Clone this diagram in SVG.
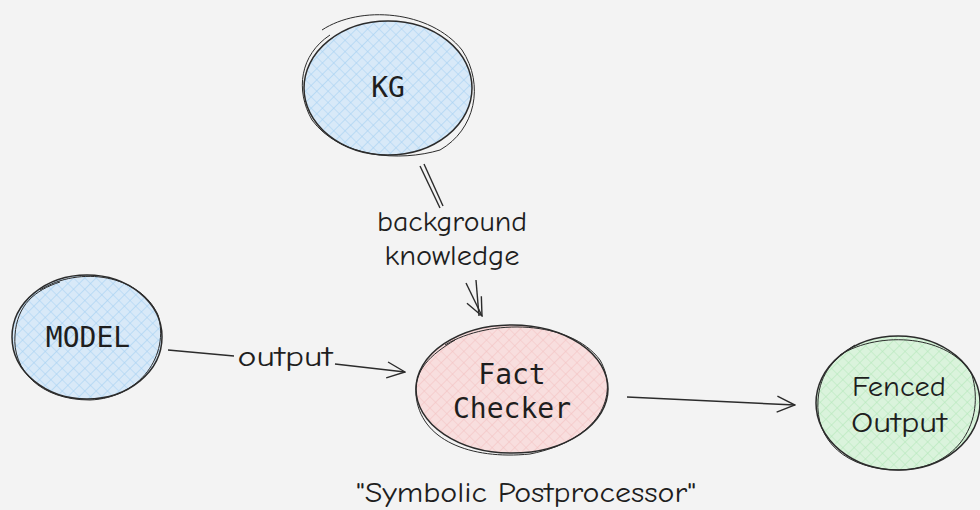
<svg xmlns="http://www.w3.org/2000/svg" width="980" height="510" viewBox="0 0 980 510">
<defs>
<pattern id="hb" width="8" height="8" patternUnits="userSpaceOnUse" patternTransform="rotate(45)">
<rect width="8" height="8" fill="#d8e9f8"/>
<path d="M0 0V8M0 0H8" stroke="#a5d0f2" stroke-width="1.2"/>
</pattern>
<pattern id="hp" width="8" height="8" patternUnits="userSpaceOnUse" patternTransform="rotate(45)">
<rect width="8" height="8" fill="#f8dede"/>
<path d="M0 0V8M0 0H8" stroke="#f3c2c2" stroke-width="1.2"/>
</pattern>
<pattern id="hg" width="8" height="8" patternUnits="userSpaceOnUse" patternTransform="rotate(45)">
<rect width="8" height="8" fill="#daf3dc"/>
<path d="M0 0V8M0 0H8" stroke="#b4e8ba" stroke-width="1.2"/>
</pattern>
<marker id="ar" viewBox="0 0 20 20" refX="19" refY="10" markerWidth="20" markerHeight="20" markerUnits="userSpaceOnUse" orient="auto">
<path d="M1 2L19 10L1 18" fill="none" stroke="#2b2b2b" stroke-width="1.4"/>
</marker>
</defs>
<style>
.nd{stroke:#2b2b2b;stroke-width:1.5}
.sk{fill:none;stroke:#2b2b2b;stroke-width:1}
.mono{font-family:"DejaVu Sans Mono","Liberation Mono",monospace;fill:#1e1e1e;text-anchor:middle;font-size:28px}
.hand{font-family:"Comic Neue","Liberation Sans",sans-serif;fill:#1e1e1e;text-anchor:middle;font-size:29px}
.cn{fill:none;stroke:#2b2b2b;stroke-width:1.4}
</style>
<rect width="980" height="510" fill="#f3f3f3"/>
<g id="connectors">
<path class="cn" d="M420 166L440 208"/>
<path class="cn" d="M424 164L443 206"/>
<path class="cn" d="M466 283L482 316" marker-end="url(#ar)"/>
<path class="cn" d="M476 280L479 316"/>
<path class="cn" d="M168 350L234 356"/>
<path class="cn" d="M335 364L405 372" marker-end="url(#ar)"/>
<path class="cn" d="M627 397L795 405" marker-end="url(#ar)"/>
<text class="hand" x="452" y="231" textLength="150" lengthAdjust="spacingAndGlyphs">background</text>
<text class="hand" x="452" y="265" textLength="135" lengthAdjust="spacingAndGlyphs">knowledge</text>
<text class="hand" x="285" y="366" textLength="95" lengthAdjust="spacingAndGlyphs">output</text>
</g>
<g id="kg">
<ellipse class="nd" cx="388" cy="88" rx="84" ry="67" fill="url(#hb)"/>
<path class="sk" d="M322 30C360 5 430 10 462 50C485 85 475 130 440 150C400 162 340 158 312 120C295 90 300 55 330 35"/>
<text class="mono" x="388" y="97">KG</text>
</g>
<g id="model">
<ellipse class="nd" cx="87" cy="337" rx="75" ry="62" fill="url(#hb)"/>
<path class="sk" d="M40 290C80 265 140 275 158 315C170 355 140 398 90 400C40 400 12 370 15 335C17 305 35 290 60 282"/>
<text class="mono" x="88" y="347">MODEL</text>
</g>
<g id="fact-checker">
<ellipse class="nd" cx="512" cy="389" rx="96" ry="64" fill="url(#hp)"/>
<path class="sk" d="M445 345C490 318 570 320 600 360C620 395 600 440 530 454C470 460 420 440 416 395C414 370 430 355 455 340"/>
<text class="mono" x="512" y="384">Fact</text>
<text class="mono" x="512" y="418">Checker</text>
</g>
<g id="fenced-output">
<ellipse class="nd" cx="898" cy="403" rx="82" ry="67" fill="url(#hg)"/>
<path class="sk" d="M840 355C880 330 950 335 972 375C985 420 960 468 900 470C845 470 815 440 818 400C820 372 835 358 855 345"/>
<text class="hand" x="899" y="396" textLength="94" lengthAdjust="spacingAndGlyphs">Fenced</text>
<text class="hand" x="899" y="432" textLength="96" lengthAdjust="spacingAndGlyphs">Output</text>
</g>
<text class="hand" x="526" y="502" textLength="340" lengthAdjust="spacingAndGlyphs">"Symbolic Postprocessor"</text>
</svg>
